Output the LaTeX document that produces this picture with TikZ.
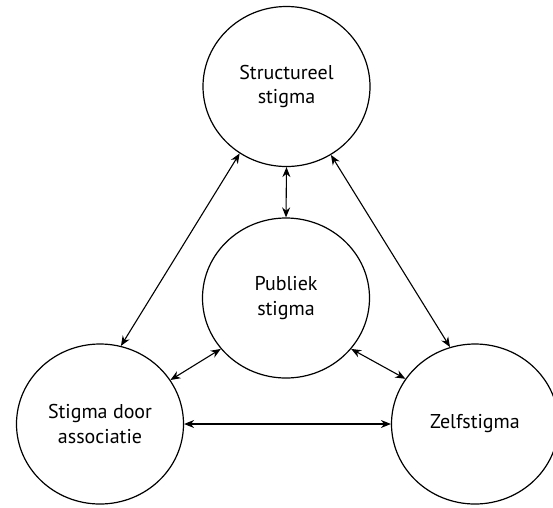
\documentclass[tikz,border=0pt]{standalone}
\usepackage{fontspec}
\setmainfont{PT Sans}
\usetikzlibrary{shapes.geometric,arrows.meta}
\begin{document}
\begin{tikzpicture}[x=1pt,y=-1pt,
  bub/.style={ellipse,draw,line width=1.2pt,minimum width=167pt,minimum height=160pt,inner sep=0pt,align=center,font=\fontsize{20}{24.5}\selectfont},
  rel/.style={line width=1.1pt,{Stealth[length=10pt,width=8pt]}-{Stealth[length=10pt,width=8pt]}}]
\useasboundingbox (0,0) rectangle (553,507);
\node[bub] (top) at (286.5,86.5) {Structureel\\stigma};
\node[bub] (mid) at (286,298) {Publiek\\stigma};
\node[bub] (left) at (100,424) {Stigma door\\associatie};
\node[bub] (right) at (475,424) {Zelfstigma};
\draw[rel] (top.235) -- (left.75);
\draw[rel] (top.303) -- (right.108);
\draw[rel] (top.270) -- (mid.90);
\draw[rel] (mid.218) -- (left.32.5);
\draw[rel] (mid.322.6) -- (right.147.8);
\draw[rel] (left.0) -- (right.180);
\end{tikzpicture}
\end{document}
